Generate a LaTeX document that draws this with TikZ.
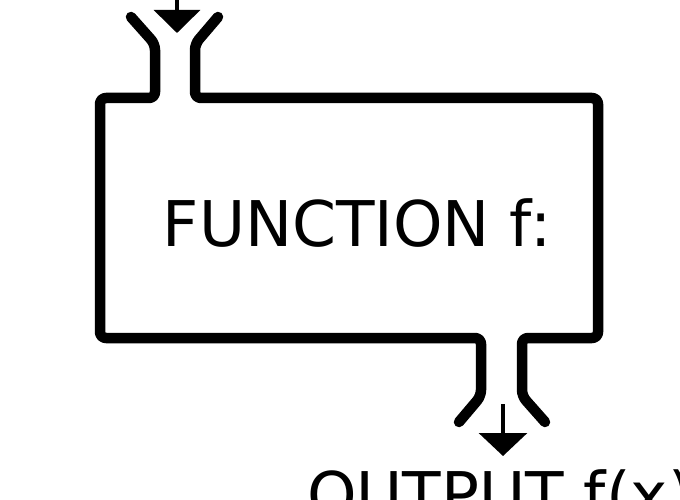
\documentclass[tikz,border=0pt]{standalone}
\usepackage{fontspec}
\setmainfont{DejaVu Sans}
\usetikzlibrary{arrows.meta}

\begin{document}
\begin{tikzpicture}[x=1pt, y=-1pt]
			\useasboundingbox (0,0) rectangle (680,500);
			% caixa, costat esquerre amb l'entrada
			\draw[line width = 10.5pt, line cap = round, line join = round, rounded corners = 6pt]
				(131,17) -- (155,44) -- (155,98) -- (100,98) -- (100,338) -- (481,338) -- (481,396) -- (459,422);
			% caixa, costat dret amb la sortida
			\draw[line width = 10.5pt, line cap = round, line join = round, rounded corners = 6pt]
				(218,17) -- (195,44) -- (195,98) -- (598,98) -- (598,338) -- (522,338) -- (522,396) -- (545,422);
			% fletxa d'entrada
			\coordinate (inTop) at (177,-5);
			\coordinate (inTip) at (177,33);
			\draw[line width = 3.5pt, -{Triangle[width = 46pt, length = 23pt]}] (inTop) -- (inTip);
			% fletxa de sortida
			\coordinate (outTop) at (503,404);
			\coordinate (outTip) at (503,456);
			\draw[line width = 3.5pt, -{Triangle[width = 48pt, length = 23pt]}] (outTop) -- (outTip);
			% textos
			\node[anchor = base, inner sep = 0pt, font = \fontsize{63}{70}\selectfont] (func) at (357,246) {FUNCTION f:};
			\node[anchor = base west, inner sep = 0pt, font = \fontsize{63}{70}\selectfont] (output) at (307,517) {OUTPUT f(x)};
		\end{tikzpicture}
\end{document}
